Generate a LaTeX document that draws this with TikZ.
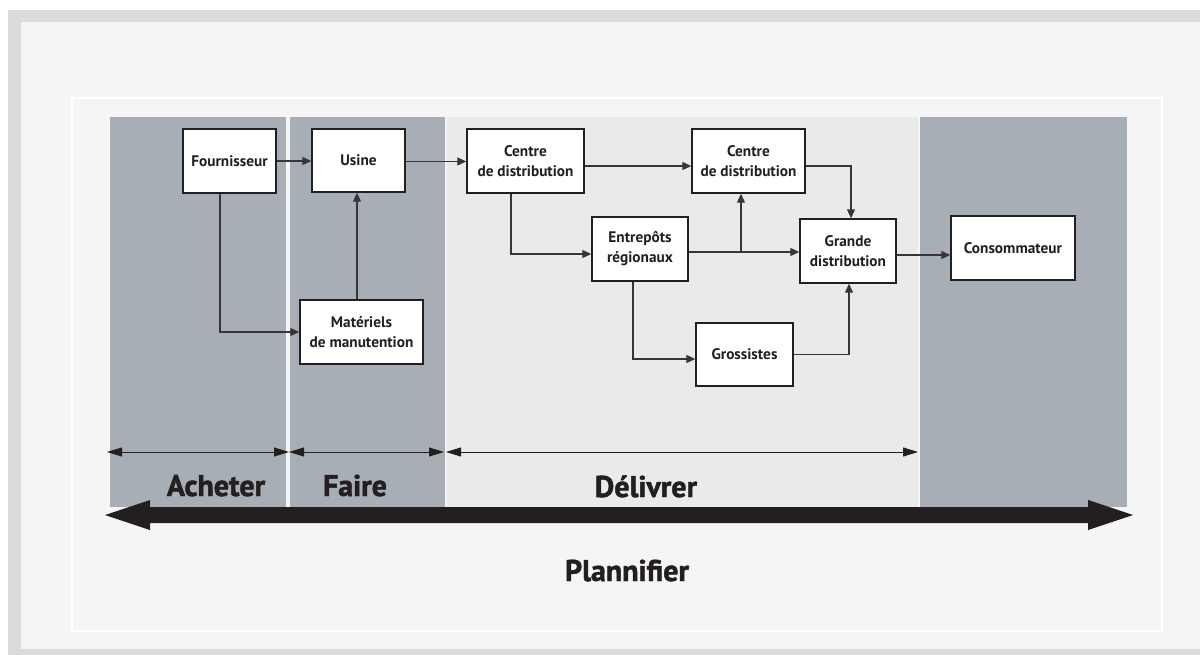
\documentclass[tikz,border=0pt]{standalone}
\usepackage{fontspec}
\setmainfont{PT Sans}
\newfontfamily\heavyfont{PT Sans}[FakeBold=1.6]
\usetikzlibrary{arrows.meta}
\definecolor{bandgrey}{HTML}{DADBDD}
\definecolor{pagebg}{HTML}{F5F5F5}
\definecolor{stagegrey}{HTML}{A8AEB5}
\definecolor{delivergrey}{HTML}{E9EAEC}
\definecolor{ink}{HTML}{231F20}
\tikzset{
  flowbox/.style={draw=ink, line width=1.4pt, fill=white, align=center,
    inner sep=2pt, font=\bfseries\fontsize{15.3}{20}\selectfont, text=ink},
  conn/.style={draw=ink!90, line width=1.1pt, -{Triangle[length=9pt,width=8pt]}},
  span/.style={draw=ink, line width=1pt,
    {Triangle[length=15pt,width=9pt]}-{Triangle[length=15pt,width=9pt]}},
  stage/.style={font=\heavyfont\bfseries\fontsize{30}{32}\selectfont, text=ink, anchor=base},
}
\begin{document}
\begin{tikzpicture}[x=1pt,y=-1pt]
  \useasboundingbox (0,0) rectangle (1200,655);
  % frame and background
  \fill[white] (0,0) rectangle (1200,655);
  \fill[bandgrey] (8,10) rectangle (1200,655);
  \fill[pagebg] (21,22) rectangle (1200,649);
  \draw[white, line width=2pt] (72,98) rectangle (1162,631);

  % stage columns
  \fill[stagegrey] (110,117) rectangle (286,507);
  \fill[stagegrey] (290,117) rectangle (445,507);
  \fill[delivergrey] (447,117) rectangle (918,507);
  \fill[stagegrey] (920,117) rectangle (1127,507);

  % boxes
  \node[flowbox, minimum width=93pt, minimum height=64pt] (four) at (229.5,161) {Fournisseur};
  \node[flowbox, minimum width=93pt, minimum height=63pt] (usine) at (358.5,160.5) {Usine};
  \node[flowbox, minimum width=123pt, minimum height=64pt] (mat) at (361.5,332) {Matériels\\de manutention};
  \node[flowbox, minimum width=117pt, minimum height=64pt] (cA) at (525.5,161) {Centre\\de distribution};
  \node[flowbox, minimum width=113pt, minimum height=64pt] (cB) at (748.5,161) {Centre\\de distribution};
  \node[flowbox, minimum width=96pt, minimum height=64pt] (ent) at (640,249) {Entrepôts\\régionaux};
  \node[flowbox, minimum width=96pt, minimum height=64pt] (gd) at (848,251) {Grande\\distribution};
  \node[flowbox, minimum width=97pt, minimum height=63pt] (gros) at (744.5,354.5) {Grossistes};
  \node[flowbox, minimum width=124pt, minimum height=64pt] (cons) at (1013,248) {Consommateur};

  % flows
  \draw[conn] (four.east) -- (four.east -| usine.west);
  \draw[conn] ([xshift=-9.5pt]four.south) |- (mat.west);
  \draw[conn] ([xshift=-4.5pt]mat.north) -- ([xshift=-4.5pt]mat.north |- usine.south);
  \draw[conn] ([yshift=-1pt]usine.east) -- ([yshift=-1pt]usine.east -| cA.west);
  \draw[conn] ([yshift=-5pt]cA.east) -- ([yshift=-5pt]cA.east -| cB.west);
  \draw[conn] ([xshift=-14.5pt]cA.south) |- ([yshift=-5pt]ent.west);
  \draw[conn] ([yshift=-3pt]ent.east) -- ([yshift=-3pt]ent.east -| gd.west);
  \coordinate (branch) at (741,252);
  \draw[conn] (branch) -- (branch |- cB.south);
  \draw[conn] ([yshift=-5pt]cB.east) -| ([xshift=3pt]gd.north);
  \draw[conn] ([xshift=-7pt]ent.south) |- ([yshift=-4.5pt]gros.west);
  \draw[conn] (gros.east) -| ([xshift=1pt]gd.south);
  \draw[conn] ([yshift=-4pt]gd.east) -- ([yshift=-4pt]gd.east -| cons.west);

  % stage extents
  \coordinate (s0) at (107,452);
  \coordinate (s1) at (289,452);
  \coordinate (s2) at (444,452);
  \coordinate (s3) at (446,452);
  \coordinate (s4) at (918,452);
  \draw[span] (s0) -- (s1);
  \draw[span] (s1) -- (s2);
  \draw[span] (s3) -- (s4);

  % stage names
  \node[stage] (lA) at (216,496) {Acheter};
  \node[stage] (lF) at (355,496) {Faire};
  \node[stage] (lD) at (646,497) {Délivrer};

  % planning arrow
  \fill[ink] (105,515) -- (150,500) -- (150,507) -- (1088,507) -- (1088,500)
    -- (1133,515) -- (1088,530) -- (1088,523) -- (150,523) -- (150,530) -- cycle;
  \node[stage] (lP) at (627,581) {Plannifier};
\end{tikzpicture}
\end{document}
